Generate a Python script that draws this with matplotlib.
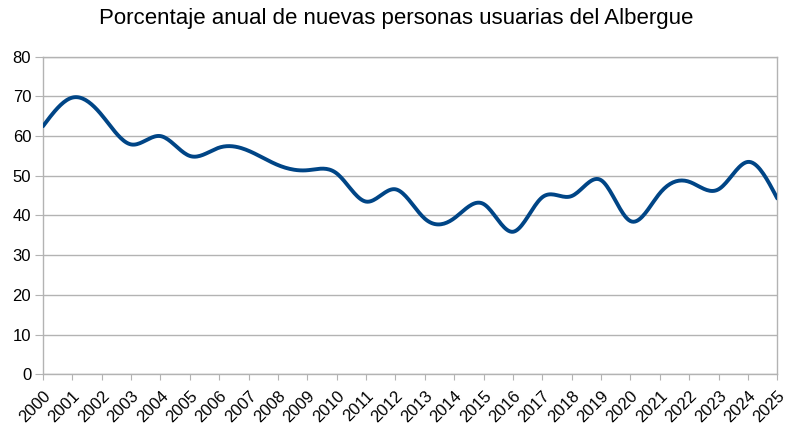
import numpy as np
import matplotlib.pyplot as plt

# 연도별 신규 이용자 비율
YEARS = list(range(2000, 2026))
PCT = [62.5, 69.7, 65.3, 57.9, 60.0, 55.0, 57.1, 56.3, 52.7, 51.4,
       50.6, 43.5, 46.6, 39.2, 39.3, 42.9, 35.9, 44.6, 44.9, 48.9,
       38.6, 45.6, 48.5, 46.6, 53.5, 44.3]
TITLE = "Porcentaje anual de nuevas personas usuarias del Albergue"


def natural_spline(x, y, n=20):
    # 자연 3차 스플라인 (LibreOffice 곡선 평활과 동일한 방식)
    x = np.asarray(x, float)
    y = np.asarray(y, float)
    m = len(x)
    h = np.diff(x)
    A = np.zeros((m, m))
    b = np.zeros(m)
    A[0, 0] = A[-1, -1] = 1.0
    for i in range(1, m - 1):
        A[i, i - 1] = h[i - 1]
        A[i, i] = 2 * (h[i - 1] + h[i])
        A[i, i + 1] = h[i]
        b[i] = 3 * ((y[i + 1] - y[i]) / h[i] - (y[i] - y[i - 1]) / h[i - 1])
    c = np.linalg.solve(A, b)
    xs, ys = [], []
    for i in range(m - 1):
        bi = (y[i + 1] - y[i]) / h[i] - h[i] * (2 * c[i] + c[i + 1]) / 3
        di = (c[i + 1] - c[i]) / (3 * h[i])
        t = np.linspace(0, h[i], n, endpoint=(i == m - 2))
        xs.append(x[i] + t)
        ys.append(y[i] + bi * t + c[i] * t ** 2 + di * t ** 3)
    return np.concatenate(xs), np.concatenate(ys)


plt.rcParams["font.family"] = ["Liberation Sans", "DejaVu Sans"]

fig = plt.figure(figsize=(7.92, 4.25), dpi=100)
ax = fig.add_axes([0.0543, 0.1193, 0.9271, 0.7473])

xs, ys = natural_spline(YEARS, PCT)
ax.plot(xs, ys, color="#004586", lw=2.8, solid_capstyle="round", zorder=3)

ax.set_xlim(YEARS[0], YEARS[-1])
ax.set_ylim(0, 80)
ax.set_yticks(range(0, 81, 10))
ax.set_xticks(YEARS)
ax.set_xticklabels([str(y) for y in YEARS], rotation=45, ha="right",
                   rotation_mode="anchor", fontsize=12)
ax.tick_params(axis="y", labelsize=12, length=5.5, color="#b3b3b3", pad=3)
ax.tick_params(axis="x", length=4, color="#b3b3b3", pad=6)
ax.grid(True, axis="y", color="#b3b3b3", lw=1)
ax.set_axisbelow(True)
for s in ax.spines.values():
    s.set_color("#b3b3b3")
    s.set_linewidth(1)

fig.text(0.5, 0.957, TITLE, ha="center", va="center", fontsize=16)

fig.savefig("out.png", dpi=100)
